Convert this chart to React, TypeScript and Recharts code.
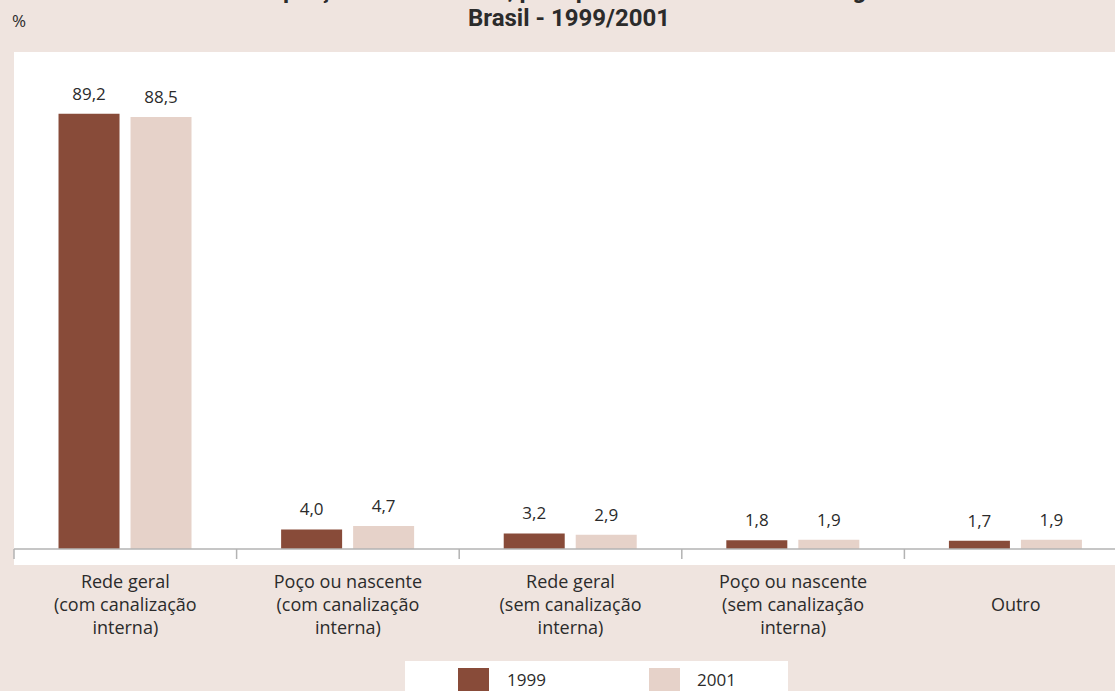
import React from "react";
import { BarChart, Bar, XAxis, YAxis, LabelList, Legend } from "recharts";

const categories = [
  "Rede geral\n(com canalização\ninterna)",
  "Poço ou nascente\n(com canalização\ninterna)",
  "Rede geral\n(sem canalização\ninterna)",
  "Poço ou nascente\n(sem canalização\ninterna)",
  "Outro",
];
const values1999 = [89.2, 4.0, 3.2, 1.8, 1.7];
const values2001 = [88.5, 4.7, 2.9, 1.9, 1.9];

const data = categories.map((name, i) => ({
  name,
  y1999: values1999[i],
  y2001: values2001[i],
}));

const FONT = "'Open Sans', 'Liberation Sans', sans-serif";
const BG = "#efe4df";
const C1999 = "#884b39";
const C2001 = "#e6d2c9";
const AXIS = "#b3b3b3";

const fmt = (v: any) => Number(v).toFixed(1).replace(".", ",");

// label lines under each category, plus tick marks on the category boundaries
function CategoryTick({ x, y, payload, index, visibleTicksCount, width }: any) {
  const lines = String(payload.value).split("\n");
  const lh = 23;
  const start = y + 55 - ((lines.length - 1) * lh) / 2;
  const half =
    payload.offset != null && payload.offset > 0
      ? payload.offset
      : width / (visibleTicksCount || categories.length) / 2;
  const isLast = index === (visibleTicksCount || categories.length) - 1;
  return (
    <g>
      <line x1={x - half} x2={x - half} y1={y} y2={y + 10} stroke={AXIS} strokeWidth={1.5} />
      {isLast && (
        <line x1={x + half} x2={x + half} y1={y} y2={y + 10} stroke={AXIS} strokeWidth={1.5} />
      )}
      <text x={x} y={start} textAnchor="middle" fontFamily={FONT} fontSize={18} fill="#2b2b2b">
        {lines.map((l, i) => (
          <tspan key={i} x={x} y={start + i * lh} dominantBaseline="central">
            {l}
          </tspan>
        ))}
      </text>
    </g>
  );
}

function LegendBox({ payload }: any) {
  const items = payload || [];
  return (
    <div style={{ position: "relative", width: 383, height: 40, background: "#fff" }}>
      {items.map((it: any, i: number) => (
        <div key={i}>
          <div
            style={{
              position: "absolute",
              left: 53 + i * 191,
              top: 7,
              width: 31,
              height: 30,
              background: it.color,
            }}
          />
          <div
            style={{
              position: "absolute",
              left: 102 + i * 190,
              top: 8,
              fontFamily: FONT,
              fontSize: 17,
              color: "#2b2b2b",
              lineHeight: "22px",
            }}
          >
            {it.value}
          </div>
        </div>
      ))}
    </div>
  );
}

const titleStyle: React.CSSProperties = {
  position: "absolute",
  left: 0,
  width: 1138,
  textAlign: "center",
  fontFamily: "Roboto, sans-serif",
  fontWeight: 700,
  fontSize: 24,
  lineHeight: "28px",
  color: "#2b2b2b",
  whiteSpace: "nowrap",
};

export default function App() {
  return (
    <div
      style={{
        position: "fixed",
        left: 0,
        top: 0,
        width: 1115,
        height: 691,
        overflow: "hidden",
        background: BG,
      }}
    >
      <div style={{ ...titleStyle, top: -24 }}>
        Proporção de domicílios, por tipo de abastecimento de água
      </div>
      <div style={{ ...titleStyle, top: 4 }}>Brasil - 1999/2001</div>
      <div
        style={{
          position: "absolute",
          left: 12,
          top: 9,
          fontFamily: FONT,
          fontSize: 17,
          color: "#2b2b2b",
        }}
      >
        %
      </div>
      <div
        style={{
          position: "absolute",
          left: 14,
          top: 52,
          width: 1101,
          height: 513,
          background: "#fff",
        }}
      />
      <div style={{ position: "absolute", left: 0, top: 0 }}>
        <BarChart
          width={1130}
          height={691}
          data={data}
          margin={{ top: 61, right: 3, left: 14, bottom: 101 }}
          barCategoryGap="20%"
          barGap={11}
        >
          <YAxis hide domain={[0, 100]} />
          <XAxis
            dataKey="name"
            height={1}
            tickSize={0}
            tickMargin={0}
            axisLine={{ stroke: AXIS, strokeWidth: 1.5 }}
            tickLine={false}
            interval={0}
            tick={<CategoryTick />}
          />
          <Legend
            content={<LegendBox />}
            wrapperStyle={{ position: "absolute", left: 405, top: 661, width: 383, height: 40 }}
          />
          <Bar dataKey="y1999" name="1999" fill={C1999} isAnimationActive={false}>
            <LabelList
              dataKey="y1999"
              position="top"
              offset={14}
              formatter={fmt}
              style={{ fontFamily: FONT, fontSize: 17, fill: "#2b2b2b" }}
            />
          </Bar>
          <Bar dataKey="y2001" name="2001" fill={C2001} isAnimationActive={false}>
            <LabelList
              dataKey="y2001"
              position="top"
              offset={14}
              formatter={fmt}
              style={{ fontFamily: FONT, fontSize: 17, fill: "#2b2b2b" }}
            />
          </Bar>
        </BarChart>
      </div>
    </div>
  );
}
